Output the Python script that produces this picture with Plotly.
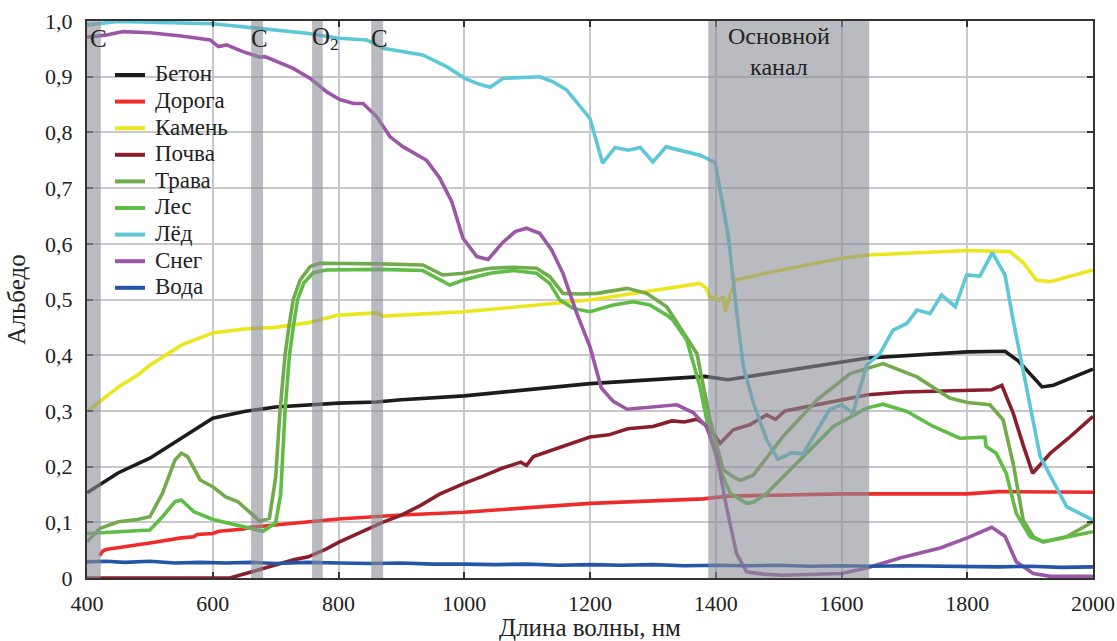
import plotly.graph_objects as go

# ---------------- data ----------------
beton_x = [400, 450, 500, 550, 600, 650, 700, 800, 860, 900, 1000, 1200, 1383, 1419, 1478, 1642, 1800, 1860, 1881, 1919, 1937, 2000]
beton_y = [0.153, 0.189, 0.215, 0.251, 0.287, 0.299, 0.307, 0.314, 0.316, 0.320, 0.327, 0.349, 0.362, 0.356, 0.366, 0.395, 0.406, 0.407, 0.390, 0.343, 0.346, 0.375]

doroga_x = [420, 425, 430, 470, 500, 550, 570, 575, 600, 610, 650, 660, 700, 800, 900, 1000, 1200, 1380, 1420, 1600, 1800, 1850, 2000]
doroga_y = [0.040, 0.048, 0.051, 0.057, 0.063, 0.072, 0.074, 0.078, 0.080, 0.084, 0.088, 0.091, 0.095, 0.106, 0.113, 0.118, 0.134, 0.142, 0.147, 0.151, 0.151, 0.155, 0.154]

kamen_x = [400, 420, 450, 480, 500, 550, 600, 650, 700, 750, 800, 861, 870, 900, 1000, 1200, 1375, 1385, 1391, 1399, 1405, 1412, 1415, 1422, 1431, 1500, 1600, 1642, 1800, 1868, 1890, 1910, 1932, 2000]
kamen_y = [0.299, 0.317, 0.343, 0.364, 0.382, 0.418, 0.440, 0.447, 0.450, 0.458, 0.472, 0.476, 0.470, 0.472, 0.478, 0.499, 0.529, 0.520, 0.502, 0.505, 0.498, 0.505, 0.478, 0.505, 0.535, 0.552, 0.574, 0.580, 0.588, 0.586, 0.565, 0.535, 0.532, 0.553]

pochva_x = [400, 627, 680, 700, 730, 752, 780, 800, 830, 850, 870, 900, 930, 960, 1000, 1030, 1060, 1090, 1099, 1110, 1150, 1200, 1230, 1260, 1300, 1330, 1350, 1370, 1388, 1407, 1428, 1454, 1481, 1495, 1510, 1534, 1570, 1600, 1642, 1700, 1760, 1800, 1839, 1855, 1873, 1890, 1904, 1932, 1960, 2000]
pochva_y = [0.0, 0.0, 0.017, 0.024, 0.033, 0.038, 0.052, 0.064, 0.080, 0.090, 0.100, 0.113, 0.130, 0.150, 0.170, 0.183, 0.197, 0.208, 0.202, 0.218, 0.233, 0.253, 0.257, 0.268, 0.272, 0.282, 0.280, 0.285, 0.272, 0.242, 0.266, 0.275, 0.293, 0.285, 0.300, 0.305, 0.313, 0.320, 0.329, 0.334, 0.336, 0.338, 0.338, 0.346, 0.296, 0.235, 0.188, 0.224, 0.250, 0.290]

trava_x = [400, 420, 450, 480, 500, 520, 540, 550, 560, 580, 600, 620, 640, 660, 675, 690, 700, 707, 715, 721, 728, 739, 755, 770, 800, 866, 934, 966, 999, 1041, 1078, 1115, 1136, 1157, 1184, 1211, 1259, 1290, 1322, 1343, 1370, 1391, 1412, 1428, 1439, 1460, 1507, 1561, 1614, 1666, 1720, 1772, 1800, 1836, 1857, 1873, 1889, 1905, 1921, 1958, 2000]
trava_y = [0.065, 0.089, 0.101, 0.105, 0.110, 0.152, 0.212, 0.224, 0.218, 0.176, 0.164, 0.146, 0.137, 0.116, 0.102, 0.107, 0.180, 0.300, 0.400, 0.450, 0.500, 0.535, 0.559, 0.565, 0.565, 0.564, 0.562, 0.544, 0.547, 0.556, 0.558, 0.556, 0.541, 0.511, 0.510, 0.511, 0.520, 0.511, 0.487, 0.451, 0.403, 0.284, 0.194, 0.182, 0.175, 0.185, 0.254, 0.320, 0.367, 0.385, 0.361, 0.323, 0.315, 0.311, 0.284, 0.206, 0.104, 0.074, 0.065, 0.074, 0.101]

les_x = [400, 450, 500, 520, 540, 550, 570, 600, 640, 680, 700, 708, 715, 722, 728, 735, 745, 760, 781, 866, 934, 966, 977, 999, 1041, 1078, 1115, 1136, 1152, 1173, 1200, 1237, 1269, 1295, 1322, 1332, 1354, 1375, 1391, 1407, 1423, 1449, 1460, 1481, 1534, 1587, 1640, 1666, 1704, 1746, 1788, 1828, 1830, 1846, 1862, 1878, 1900, 1921, 2000]
les_y = [0.080, 0.083, 0.086, 0.110, 0.137, 0.140, 0.119, 0.105, 0.095, 0.084, 0.099, 0.150, 0.300, 0.400, 0.450, 0.500, 0.530, 0.548, 0.553, 0.554, 0.552, 0.532, 0.526, 0.535, 0.547, 0.552, 0.547, 0.529, 0.499, 0.484, 0.478, 0.490, 0.496, 0.490, 0.472, 0.463, 0.427, 0.343, 0.254, 0.194, 0.152, 0.134, 0.136, 0.152, 0.212, 0.272, 0.305, 0.312, 0.299, 0.272, 0.251, 0.253, 0.236, 0.224, 0.188, 0.116, 0.074, 0.065, 0.083]

led_x = [400, 450, 600, 700, 750, 800, 845, 871, 903, 934, 972, 1001, 1020, 1041, 1062, 1120, 1141, 1163, 1200, 1220, 1240, 1261, 1280, 1300, 1321, 1375, 1399, 1420, 1436, 1444, 1460, 1481, 1499, 1521, 1539, 1581, 1600, 1618, 1640, 1661, 1682, 1704, 1720, 1741, 1759, 1781, 1799, 1820, 1840, 1860, 1873, 1916, 1958, 2000]
led_y = [0.993, 0.999, 0.995, 0.983, 0.978, 0.969, 0.966, 0.951, 0.945, 0.939, 0.918, 0.897, 0.888, 0.881, 0.897, 0.900, 0.891, 0.876, 0.825, 0.745, 0.773, 0.768, 0.773, 0.747, 0.774, 0.759, 0.746, 0.613, 0.451, 0.379, 0.314, 0.248, 0.213, 0.225, 0.223, 0.302, 0.311, 0.296, 0.382, 0.403, 0.445, 0.457, 0.481, 0.475, 0.508, 0.487, 0.544, 0.542, 0.584, 0.544, 0.463, 0.218, 0.128, 0.104]

sneg_x = [400, 431, 458, 500, 550, 596, 609, 622, 648, 675, 683, 707, 728, 755, 781, 802, 824, 839, 861, 882, 903, 940, 961, 980, 998, 1020, 1038, 1060, 1081, 1099, 1120, 1139, 1157, 1179, 1200, 1218, 1237, 1259, 1300, 1338, 1364, 1385, 1401, 1417, 1433, 1449, 1475, 1507, 1600, 1640, 1693, 1757, 1800, 1839, 1860, 1878, 1905, 1932, 2000]
sneg_y = [0.971, 0.975, 0.981, 0.979, 0.973, 0.966, 0.954, 0.957, 0.945, 0.935, 0.936, 0.924, 0.915, 0.897, 0.873, 0.859, 0.852, 0.852, 0.828, 0.792, 0.774, 0.750, 0.718, 0.676, 0.610, 0.577, 0.572, 0.601, 0.622, 0.628, 0.619, 0.589, 0.547, 0.475, 0.415, 0.341, 0.317, 0.303, 0.307, 0.311, 0.297, 0.272, 0.224, 0.128, 0.044, 0.011, 0.007, 0.005, 0.008, 0.018, 0.036, 0.054, 0.072, 0.091, 0.075, 0.029, 0.008, 0.003, 0.003]

voda_x = [400, 430, 460, 500, 540, 580, 620, 660, 700, 750, 800, 850, 900, 950, 1000, 1050, 1100, 1150, 1200, 1250, 1300, 1350, 1400, 1450, 1500, 1550, 1600, 1650, 1700, 1750, 1800, 1850, 1900, 1950, 2000]
voda_y = [0.029, 0.030, 0.028, 0.030, 0.027, 0.028, 0.027, 0.028, 0.026, 0.028, 0.027, 0.026, 0.027, 0.025, 0.025, 0.024, 0.025, 0.023, 0.024, 0.023, 0.024, 0.022, 0.023, 0.022, 0.023, 0.021, 0.022, 0.021, 0.022, 0.021, 0.021, 0.020, 0.021, 0.019, 0.020]

series = [
    ("Бетон", beton_x, beton_y, "#1c1c1c"),
    ("Дорога", doroga_x, doroga_y, "#ee2b2b"),
    ("Камень", kamen_x, kamen_y, "#ece61e"),
    ("Почва", pochva_x, pochva_y, "#8a1f2b"),
    ("Трава", trava_x, trava_y, "#72ab4b"),
    ("Лес", les_x, les_y, "#5fbd45"),
    ("Лёд", led_x, led_y, "#5cc8d7"),
    ("Снег", sneg_x, sneg_y, "#9b56a6"),
    ("Вода", voda_x, voda_y, "#2356a8"),
]

bands = [(400, 422), (661, 680), (758, 775), (852, 871), (1388, 1644)]
band_labels = [(418, "C"), (675, "C"), (779, "O<sub>2</sub>"), (865, "C")]
channel_label = "Основной<br>канал"

x_ticks = [400, 600, 800, 1000, 1200, 1400, 1600, 1800, 2000]
y_ticks = [0, 0.1, 0.2, 0.3, 0.4, 0.5, 0.6, 0.7, 0.8, 0.9, 1.0]
y_ticktext = ["0", "0,1", "0,2", "0,3", "0,4", "0,5", "0,6", "0,7", "0,8", "0,9", "1,0"]

# ---------------- figure ----------------
FONT = "'Liberation Serif', 'Times New Roman', serif"
W, H = 1117, 641
ML, MR, MT, MB = 87, 24, 21, 63
PW, PH = W - ML - MR, H - MT - MB

fig = go.Figure()
for name, xs, ys, col in series:
    fig.add_trace(go.Scatter(x=xs, y=ys, mode="lines", name=name, showlegend=False,
                             line=dict(color=col, width=3.6)))

for x0, x1 in bands:
    fig.add_shape(type="rect", xref="x", yref="paper", x0=x0, x1=x1, y0=0, y1=1,
                  fillcolor="rgba(140,142,150,0.6)", line=dict(width=0), layer="above")

for xv, txt in band_labels:
    fig.add_annotation(x=xv, y=0.968, xref="x", yref="y", text=txt, showarrow=False,
                       font=dict(family=FONT, size=25, color="#222"))
fig.add_annotation(x=1501, y=0.946, xref="x", yref="y", text=channel_label, showarrow=False,
                   font=dict(family=FONT, size=24, color="#222"))

# legend (drawn in paper coordinates, one row per series)
LEG_X0, LEG_X1, LEG_TX, LEG_Y0, LEG_DY = 115, 145, 153, 75, 26.6
for i, (name, xs, ys, col) in enumerate(series):
    ypx = LEG_Y0 + i * LEG_DY
    yp = (H - MB - ypx) / PH
    fig.add_shape(type="line", xref="paper", yref="paper",
                  x0=(LEG_X0 - ML) / PW, x1=(LEG_X1 - ML) / PW, y0=yp, y1=yp,
                  line=dict(color=col, width=4), layer="above")
    fig.add_annotation(x=(LEG_TX - ML) / PW, y=yp + 0.002, xref="paper", yref="paper",
                       text=name, showarrow=False, xanchor="left", yanchor="middle",
                       font=dict(family=FONT, size=23, color="#222"))

fig.update_layout(
    width=W, height=H,
    margin=dict(l=ML, r=MR, t=MT, b=MB, autoexpand=False),
    paper_bgcolor="white", plot_bgcolor="white",
    font=dict(family=FONT, size=22, color="#222"),
    showlegend=False,
)
fig.update_xaxes(range=[400, 2000], tickvals=x_ticks, showgrid=True, gridcolor="#c8c8cc",
                 gridwidth=1.5, showline=True, linecolor="#333", linewidth=2, mirror="ticks",
                 ticks="inside", ticklen=6, tickcolor="#333", tickwidth=1.5,
                 zeroline=False, automargin=False, ticklabelstandoff=5,
                 tickfont=dict(family=FONT, size=22),
                 title=dict(text="Длина волны, нм", font=dict(family=FONT, size=25), standoff=2))
fig.update_yaxes(range=[0, 1.0], tickvals=y_ticks, ticktext=y_ticktext, showgrid=True,
                 gridcolor="#c8c8cc", gridwidth=1.5, showline=True, linecolor="#333",
                 linewidth=2, mirror="ticks", ticks="inside", ticklen=6, tickcolor="#333",
                 tickwidth=1.5, zeroline=False, automargin=False, ticklabelstandoff=8,
                 tickfont=dict(family=FONT, size=22),
                 title=dict(text="Альбедо", font=dict(family=FONT, size=25), standoff=12))

fig.write_html("out.html")
